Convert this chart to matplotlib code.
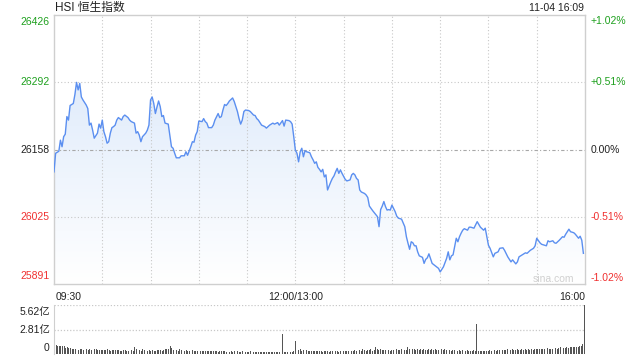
import numpy as np
import matplotlib
matplotlib.use("Agg")
import matplotlib.pyplot as plt
from matplotlib.colors import LinearSegmentedColormap

plt.rcParams['font.family'] = ['Liberation Sans', 'Noto Sans CJK SC', 'DejaVu Sans']

# ---------------- data ----------------
title = "HSI 恒生指数"
stamp = "11-04 16:09"
prev_close = 26158
y_ticks = [25891, 26025, 26158, 26292, 26426]
pct_labels = ["-1.02%", "-0.51%", "0.00%", "+0.51%", "+1.02%"]
x_tick_labels = ["09:30", "12:00/13:00", "16:00"]
vol_tick_labels = ["0", "2.81亿", "5.62亿"]
vol_ticks = [0, 2.81, 5.62]

# trading minutes since 09:30 (lunch break removed)
minutes = [0, 1, 3, 4, 5, 6, 7, 8, 9, 10, 12, 13, 14, 15, 16, 17, 18, 20, 21, 22,
           23, 24, 25, 27, 28, 29, 30, 31, 32, 33, 34, 35, 36, 37, 38, 39, 40, 42, 43, 44,
           46, 47, 48, 50, 51, 52, 53, 54, 55, 57, 58, 59, 60, 61, 62, 63, 64, 65, 66, 67,
           68, 69, 71, 72, 73, 74, 75, 76, 78, 79, 81, 82, 83, 85, 86, 87, 88, 89, 90, 92,
           93, 94, 95, 96, 98, 99, 100, 102, 103, 104, 105, 106, 107, 108, 109, 111, 112, 113, 114, 115,
           116, 117, 118, 119, 121, 122, 124, 125, 126, 127, 129, 131, 132, 134, 136, 137, 139, 140, 142, 143,
           144, 146, 147, 148, 149, 150, 151, 152, 153, 154, 155, 156, 157, 159, 160, 161, 162, 163, 164, 165,
           166, 167, 168, 169, 170, 172, 173, 174, 175, 176, 177, 178, 179, 181, 182, 184, 185, 186, 187, 188,
           189, 190, 191, 193, 194, 195, 196, 198, 199, 201, 202, 203, 204, 205, 206, 207, 208, 209, 210, 212,
           213, 214, 216, 218, 219, 220, 221, 222, 223, 224, 225, 226, 227, 229, 230, 231, 232, 233, 235, 237,
           239, 240, 242, 244, 245, 246, 247, 248, 250, 251, 252, 253, 254, 255, 257, 258, 259, 261, 263, 265,
           267, 268, 270, 271, 273, 274, 276, 277, 279, 280, 282, 284, 285, 287, 288, 289, 291, 293, 294, 296,
           298, 299, 300, 302, 303, 305, 306, 307, 308, 310, 311, 312, 314, 316, 317, 318, 320, 321, 323, 324,
           326, 327, 328, 329]
price = [26114, 26151, 26155, 26177, 26164, 26184, 26189, 26224, 26217, 26246, 26250, 26268, 26292, 26277, 26290, 26263, 26257, 26247, 26240, 26207,
         26211, 26197, 26181, 26191, 26209, 26201, 26217, 26194, 26184, 26171, 26174, 26191, 26202, 26204, 26207, 26217, 26222, 26217, 26224, 26227,
         26222, 26217, 26214, 26211, 26191, 26194, 26187, 26174, 26184, 26191, 26197, 26207, 26257, 26263, 26250, 26230, 26243, 26255, 26244, 26224,
         26226, 26211, 26209, 26187, 26164, 26161, 26151, 26142, 26142, 26146, 26146, 26154, 26147, 26164, 26174, 26173, 26187, 26194, 26215, 26214,
         26220, 26214, 26211, 26202, 26202, 26207, 26217, 26230, 26222, 26224, 26237, 26248, 26246, 26250, 26255, 26261, 26254, 26244, 26234, 26220,
         26209, 26217, 26234, 26237, 26236, 26234, 26227, 26226, 26220, 26217, 26207, 26204, 26201, 26207, 26211, 26209, 26212, 26207, 26216, 26205,
         26217, 26216, 26214, 26209, 26184, 26157, 26151, 26134, 26154, 26161, 26144, 26156, 26154, 26152, 26144, 26138, 26131, 26134, 26123, 26119,
         26114, 26119, 26104, 26108, 26078, 26094, 26101, 26106, 26114, 26121, 26111, 26118, 26111, 26099, 26096, 26098, 26108, 26111, 26108, 26101,
         26098, 26078, 26074, 26071, 26068, 26063, 26046, 26037, 26033, 26025, 26005, 26039, 26046, 26055, 26045, 26038, 26039, 26038, 26048, 26035,
         26026, 26022, 26020, 26005, 25985, 25972, 25960, 25975, 25973, 25967, 25967, 25955, 25947, 25944, 25932, 25940, 25943, 25951, 25932, 25927,
         25922, 25915, 25925, 25942, 25955, 25939, 25947, 25949, 25982, 25975, 25985, 25992, 25998, 26001, 25998, 26004, 26004, 26002, 26015, 26004,
         25998, 26002, 25968, 25962, 25945, 25952, 25955, 25962, 25963, 25958, 25945, 25935, 25939, 25931, 25935, 25945, 25949, 25953, 25952, 25958,
         25962, 25967, 25982, 25973, 25970, 25968, 25967, 25977, 25975, 25977, 25973, 25972, 25978, 25985, 25984, 25990, 26000, 25995, 25993, 25990,
         25982, 25986, 25978, 25952]

# volume per minute (亿)
volume = [2.90, 1.05, 0.95, 0.92, 0.95, 0.88, 0.92, 0.72, 0.80, 0.65,
          0.70, 0.55, 0.62, 0.58, 0.66, 0.50, 0.55, 0.62, 0.48, 0.52,
          0.55, 0.45, 0.58, 0.50, 0.48, 0.52, 0.60, 0.46, 0.50, 0.44,
          0.50, 0.42, 0.48, 0.52, 0.45, 0.40, 0.47, 0.44, 0.50, 0.42,
          0.45, 0.40, 0.38, 0.50, 0.44, 0.40, 0.36, 0.42, 0.48, 0.40,
          0.85, 0.60, 0.45, 0.50, 0.40, 0.55, 0.48, 0.42, 0.38, 0.45,
          0.40, 0.44, 0.38, 0.36, 0.42, 0.45, 0.50, 0.40, 0.48, 0.52,
          0.55, 0.60, 0.92, 0.65, 0.50, 0.45, 0.48, 0.40, 0.52, 0.44,
          0.42, 0.38, 0.45, 0.40, 0.36, 0.42, 0.48, 0.35, 0.40, 0.38,
          0.44, 0.36, 0.32, 0.38, 0.35, 0.30, 0.34, 0.36, 0.30, 0.32,
          0.35, 0.30, 0.28, 0.34, 0.30, 0.38, 0.32, 0.28, 0.30, 0.26,
          0.30, 0.28, 0.32, 0.26, 0.30, 0.25, 0.28, 0.30, 0.24, 0.27,
          0.28, 0.25, 0.30, 0.26, 0.24, 0.28, 0.22, 0.26, 0.25, 0.22,
          0.24, 0.26, 0.22, 0.25, 0.20, 0.24, 0.22, 0.20, 0.23, 0.21,
          0.20, 0.22, 2.30, 0.24, 0.18, 0.22, 0.20, 0.24, 0.18, 0.30,
          1.45, 0.62, 0.45, 0.55, 0.40, 0.42, 0.38, 0.45, 0.35, 0.40,
          0.38, 0.32, 0.36, 0.30, 0.34, 0.40, 0.32, 0.28, 0.35, 0.30,
          0.32, 0.28, 0.30, 0.36, 0.38, 0.30, 0.34, 0.28, 0.32, 0.36,
          0.40, 0.34, 0.30, 0.38, 0.42, 0.36, 0.32, 0.45, 0.38, 0.40,
          0.48, 0.40, 0.55, 0.42, 0.38, 0.46, 0.44, 0.52, 0.40, 0.48,
          0.75, 0.60, 0.50, 0.55, 0.46, 0.42, 0.50, 0.48, 0.44, 0.40,
          0.45, 0.42, 0.48, 0.52, 0.46, 0.50, 0.55, 0.60, 0.48, 0.50,
          0.85, 0.55, 0.50, 0.58, 0.52, 0.48, 0.62, 0.50, 0.55, 0.48,
          0.52, 0.50, 0.45, 0.55, 0.48, 0.60, 0.46, 0.52, 0.44, 0.50,
          0.68, 0.55, 0.48, 0.52, 0.46, 0.50, 0.44, 0.40, 0.48, 0.42,
          0.46, 0.40, 0.44, 0.38, 0.42, 0.40, 0.36, 0.44, 0.38, 0.40,
          0.36, 0.42, 0.38, 3.40, 0.35, 0.30, 0.38, 0.32, 0.36, 0.40,
          0.38, 0.42, 0.36, 0.44, 0.48, 0.40, 0.45, 0.50, 0.42, 0.46,
          0.48, 0.44, 0.52, 0.46, 0.50, 0.58, 0.48, 0.45, 0.52, 0.46,
          0.50, 0.55, 0.48, 0.52, 0.46, 0.56, 0.50, 0.54, 0.48, 0.58,
          0.55, 0.60, 0.52, 0.58, 0.62, 0.55, 0.60, 0.65, 0.58, 0.62,
          0.60, 0.66, 0.70, 0.62, 0.68, 0.75, 0.65, 0.72, 0.70, 0.78,
          0.72, 0.80, 0.75, 0.82, 0.78, 0.85, 0.80, 0.88, 0.90, 1.10,
          5.60]

# ---------------- styling ----------------
W, H = 640, 360
GREEN = "#1ea01e"
RED = "#f03030"
BLACK = "#222222"
LINE = "#5b8ff0"
GRID = "#c8c8c8"
SPINE = "#cfcfcf"
FS = 7.5

fig = plt.figure(figsize=(W / 100, H / 100), dpi=100)
L, R = 54 / W, 585 / W
ax = fig.add_axes([L, 1 - 284 / H, R - L, (284 - 15) / H])
axv = fig.add_axes([L, 1 - 354 / H, R - L, (354 - 305) / H])

t = np.array(minutes, dtype=float)
p = np.array(price, dtype=float)
ymin, ymax = y_ticks[0], y_ticks[-1]
tmax = 330

ax.set_xlim(0, tmax)
ax.set_ylim(ymin, ymax)

# gradient fill under the line
cmap = LinearSegmentedColormap.from_list("g", [(1, 1, 1), (0.84, 0.90, 0.98)])
grad = np.linspace(0, 1, 256).reshape(-1, 1)
im = ax.imshow(grad, extent=[0, tmax, ymin, ymax], origin="lower", aspect="auto",
               cmap=cmap, zorder=1)
poly = ax.fill_between(t, p, ymin, color="none", lw=0)
clip = poly.get_paths()[0]
im.set_clip_path(clip, transform=ax.transData)

ax.plot(t, p, color=LINE, lw=1.0, zorder=3)

# grid (drawn over the fill, under the line)
for xv in range(30, tmax, 30):
    ax.axvline(xv, color=GRID, lw=0.8, ls=(0, (1, 2)), zorder=2)
for yv in y_ticks[1:-1]:
    if yv == prev_close:
        ax.axhline(yv, color="#a8a8a8", lw=0.8, ls=(0, (3, 2, 1, 2)), zorder=2)
    else:
        ax.axhline(yv, color=GRID, lw=0.8, ls=(0, (1, 2)), zorder=2)

for s in ax.spines.values():
    s.set_color(SPINE)
    s.set_linewidth(1.0)
ax.set_xticks([])
ax.set_yticks([])

# left price labels
for yv in y_ticks:
    c = GREEN if yv > prev_close else (RED if yv < prev_close else BLACK)
    off = 0
    if yv == ymax:
        off = -5
    elif yv == ymin:
        off = 6
    ax.annotate(str(yv), (0, yv), xycoords=("axes fraction", "data"),
                xytext=(-3, off), textcoords="offset points", ha="right", va="center",
                color=c, fontsize=FS)
# right percentage labels
for yv, lab in zip(y_ticks, pct_labels):
    c = GREEN if lab.startswith("+") else (RED if lab.startswith("-") else BLACK)
    off = 0
    if yv == ymax:
        off = -4.5
    elif yv == ymin:
        off = 4.5
    ax.annotate(lab, (1, yv), xycoords=("axes fraction", "data"),
                xytext=(4, off), textcoords="offset points", ha="left", va="center",
                color=c, fontsize=FS)

# x labels
xl_pos = [0, 150, tmax]
xl_ha = ["left", "center", "right"]
for xv, lab, ha in zip(xl_pos, x_tick_labels, xl_ha):
    ax.annotate(lab, (xv, 0), xycoords=("data", "axes fraction"),
                xytext=(1 if ha == "left" else 0, -9), textcoords="offset points",
                ha=ha, va="center", color=BLACK, fontsize=FS)

fig.text(L + 1 / W, 1 - 8 / H, title, ha="left", va="center", fontsize=8.5, color=BLACK)
fig.text(584 / W, 1 - 8 / H, stamp, ha="right", va="center", fontsize=FS, color=BLACK)
fig.text(574 / W, 1 - 279 / H, "sina.com", ha="right", va="center", fontsize=7.5,
         color="#d0d0d0")

# volume panel
vt = np.arange(len(volume))
axv.bar(vt, volume, width=0.55, color="#555555", lw=0, zorder=2)
axv.set_xlim(-0.3, tmax + 0.3)
axv.set_ylim(0, vol_ticks[-1])
for yv in vol_ticks[1:]:
    axv.axhline(yv, color=GRID, lw=0.9, ls=(0, (1, 1.5)), zorder=1)
for s in ["top", "right", "bottom"]:
    axv.spines[s].set_visible(False)
axv.spines["left"].set_color(SPINE)
axv.set_xticks([])
axv.set_yticks([])
for yv, lab in zip(vol_ticks, vol_tick_labels):
    off = {0: 4, 2.81: 0, 5.62: -5}[yv]
    axv.annotate(lab, (0, yv), xycoords=("axes fraction", "data"),
                 xytext=(-3, off), textcoords="offset points", ha="right", va="center",
                 color=BLACK, fontsize=FS)

fig.savefig("out.png", dpi=100)
